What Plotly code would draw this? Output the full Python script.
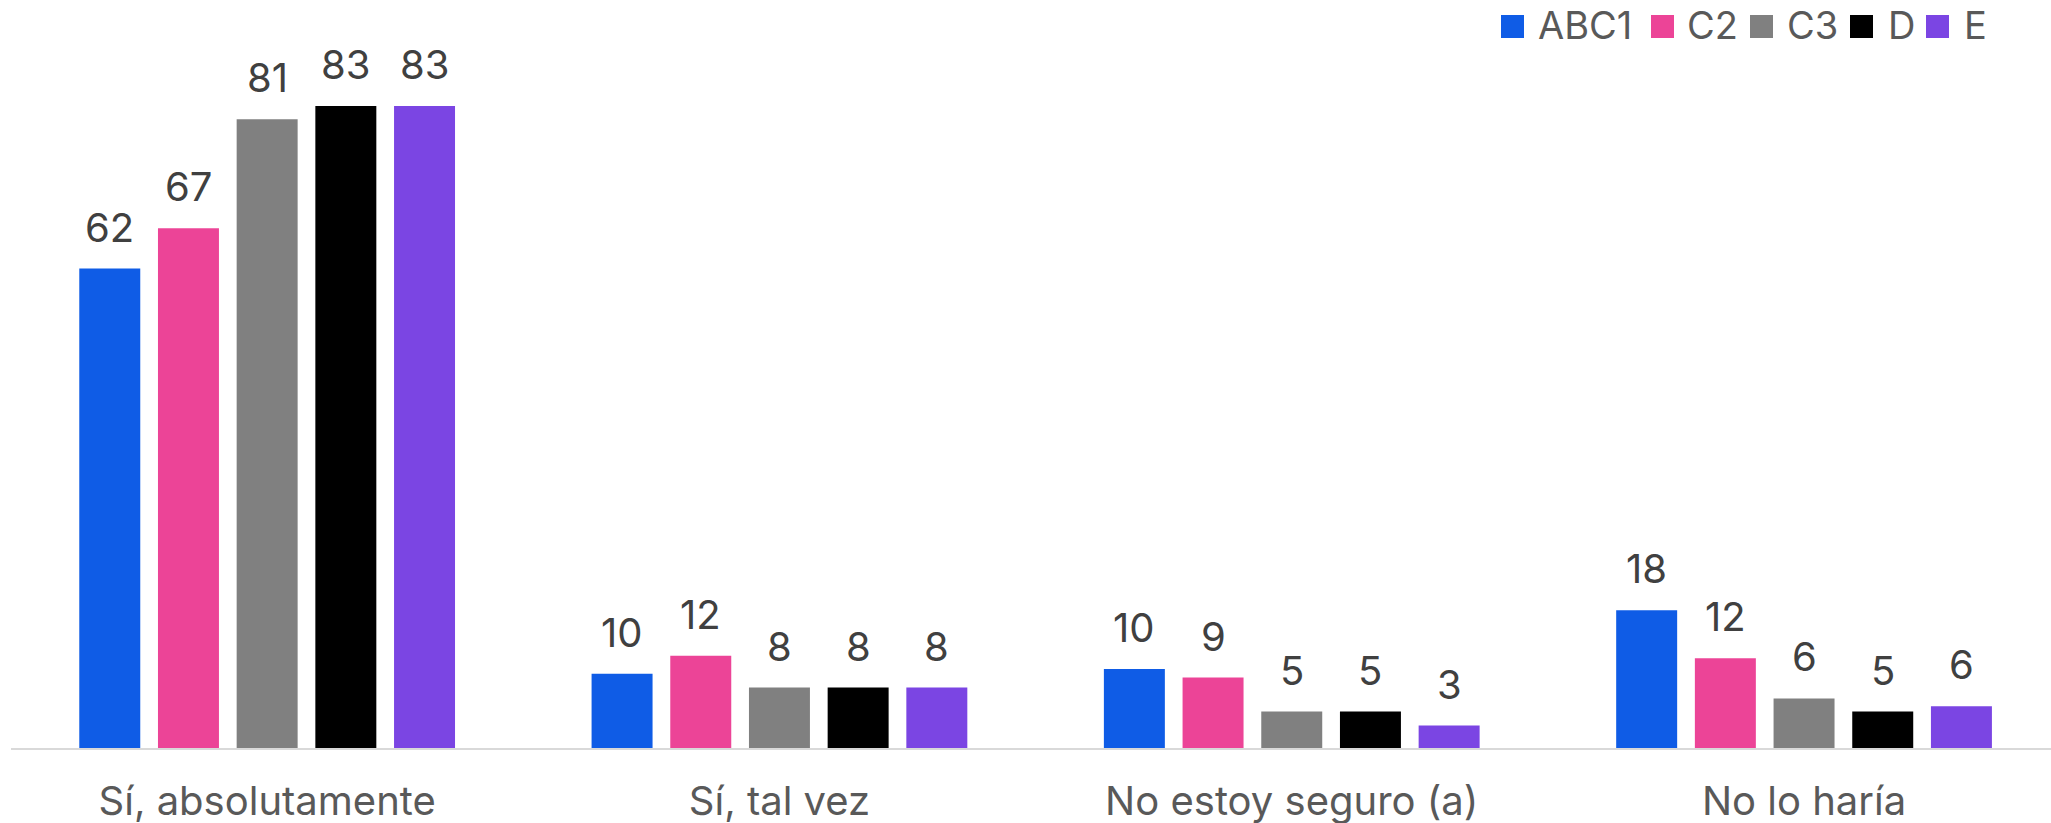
import plotly.graph_objects as go

# ---------------- data ----------------
categories = ["Sí, absolutamente", "Sí, tal vez", "No estoy seguro (a)", "No lo haría"]
series_names = ["ABC1", "C2", "C3", "D", "E"]
abc1 = [61.9, 9.6, 10.2, 17.8]
c2 = [67.1, 11.9, 9.1, 11.6]
c3 = [81.2, 7.8, 4.7, 6.4]
d = [82.9, 7.8, 4.7, 4.7]
e = [82.9, 7.8, 2.9, 5.4]
abc1_labels = ["62", "10", "10", "18"]
c2_labels = ["67", "12", "9", "12"]
c3_labels = ["81", "8", "5", "6"]
d_labels = ["83", "8", "5", "5"]
e_labels = ["83", "8", "3", "6"]
colors = ["#0F5CE6", "#EC4497", "#808080", "#000000", "#7B45E3"]

values = [abc1, c2, c3, d, e]
labels = [abc1_labels, c2_labels, c3_labels, d_labels, e_labels]

# ---------------- layout constants ----------------
W, H = 2051, 823
ML, MR, MT, MB = 11, 0, 51, 75
PW = W - ML - MR
PH = H - MT - MB
STEP = 512.3  # px per category
BARGAP = 0.232
BARGROUPGAP = 0.225
YMAX = 90
FONT = "Inter, 'Open Sans', sans-serif"

fig = go.Figure()
for name, vals, col in zip(series_names, values, colors):
    fig.add_trace(go.Bar(
        x=categories, y=vals, name=name,
        marker=dict(color=col, line=dict(width=0)),
        showlegend=False, hoverinfo="skip",
    ))

slot = (1 - BARGAP) * STEP / len(series_names)
annotations = []
for i, (labs, vals) in enumerate(zip(labels, values)):
    for cat, v, t in zip(categories, vals, labs):
        annotations.append(dict(
            x=cat, y=v, xref="x", yref="y", text=t, showarrow=False,
            xanchor="center", yanchor="bottom",
            xshift=(i - (len(series_names) - 1) / 2) * slot, yshift=15,
            font=dict(family=FONT, size=40, color="#404040"),
        ))

# manual legend (large square swatches)
legend_sq_x = [1501, 1651, 1750, 1850, 1926]
legend_tx_x = [1536, 1685, 1785, 1886, 1962]
SQ = 23
sq_top, sq_bot = 15, 38
shapes = []
def px_to_paper_x(px):
    return (px - ML) / PW
def px_to_paper_y(py):
    return (H - MB - py) / PH
for name, col, sx, tx in zip(series_names, colors, legend_sq_x, legend_tx_x):
    shapes.append(dict(
        type="rect", xref="paper", yref="paper",
        x0=px_to_paper_x(sx), x1=px_to_paper_x(sx + SQ),
        y0=px_to_paper_y(sq_bot), y1=px_to_paper_y(sq_top),
        fillcolor=col, line=dict(width=0),
    ))
    annotations.append(dict(
        x=px_to_paper_x(tx), y=px_to_paper_y(25), xref="paper", yref="paper",
        text=name, showarrow=False, xanchor="left", yanchor="middle",
        font=dict(family=FONT, size=38, color="#595959"),
    ))

fig.update_layout(
    width=W, height=H,
    margin=dict(l=ML, r=MR, t=MT, b=MB, pad=0, autoexpand=False),
    paper_bgcolor="white", plot_bgcolor="white",
    barmode="group", bargap=BARGAP, bargroupgap=BARGROUPGAP,
    font=dict(family=FONT, color="#595959"),
    xaxis=dict(
        type="category", categoryorder="array", categoryarray=categories,
        range=[-0.5, -0.5 + PW / STEP],
        showline=True, linecolor="#D9D9D9", linewidth=2,
        showgrid=False, zeroline=False, ticks="",
        tickfont=dict(family=FONT, size=40, color="#595959"),
        ticklabelstandoff=17, automargin=False,
        fixedrange=True,
    ),
    yaxis=dict(range=[0, YMAX], visible=False, fixedrange=True, automargin=False),
    annotations=annotations,
    shapes=shapes,
    showlegend=False,
)

fig.write_html(
    "out.html",
    config={"displayModeBar": False},
    post_script="document.body.style.margin='0';document.body.style.overflow='hidden';",
)
